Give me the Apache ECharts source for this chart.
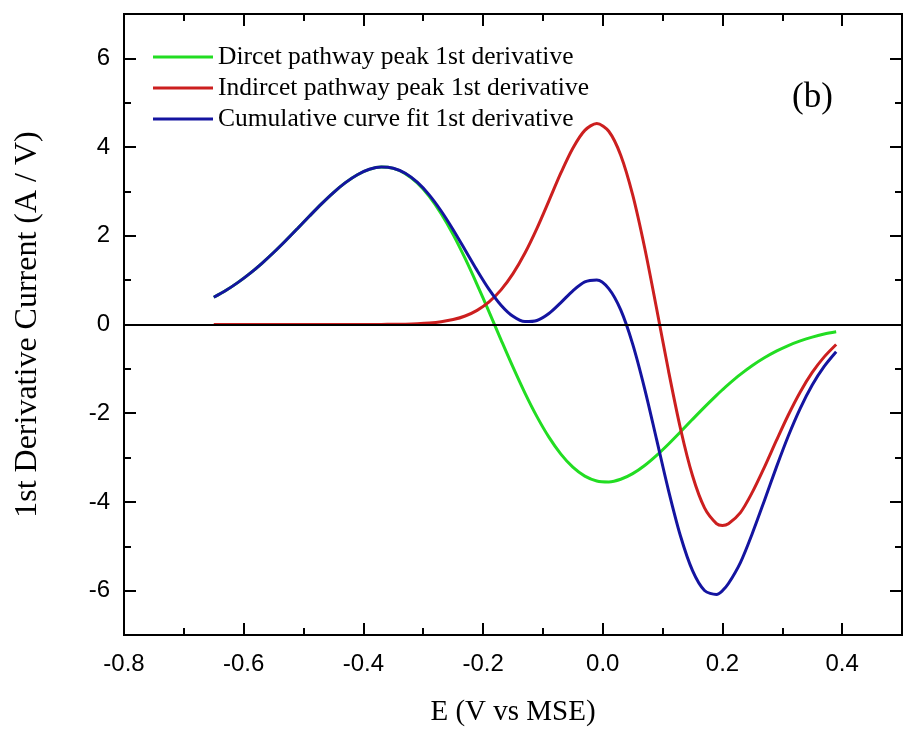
<!DOCTYPE html>
<html>
<head>
<meta charset="utf-8">
<title>1st derivative</title>
<script src="https://cdn.jsdelivr.net/npm/echarts@6/dist/echarts.min.js"></script>
<style>
  html, body { margin: 0; padding: 0; background: #fff; }
  #chart { width: 904px; height: 732px; }
</style>
</head>
<body>
<div id="chart"></div>
<script>
// E (V vs MSE), mostly step 0.02
const xValues = [-0.65, -0.63, -0.61, -0.59, -0.57, -0.55, -0.53, -0.51, -0.49, -0.47,
  -0.45, -0.43, -0.41, -0.39, -0.37, -0.35, -0.33, -0.31, -0.29, -0.27,
  -0.25, -0.23, -0.21, -0.19, -0.17, -0.15, -0.13, -0.11, -0.09, -0.07,
  -0.05, -0.03, -0.01, 0.01, 0.03, 0.05, 0.07, 0.09, 0.11, 0.13,
  0.15, 0.17, 0.19, 0.20, 0.21, 0.23, 0.25, 0.27, 0.29, 0.31, 0.33,
  0.35, 0.37, 0.39];

const directDeriv = [0.614, 0.766, 0.944, 1.147, 1.374, 1.623, 1.889, 2.166, 2.446, 2.720,
  2.975, 3.198, 3.377, 3.498, 3.549, 3.519, 3.402, 3.191, 2.889, 2.497,
  2.027, 1.489, 0.901, 0.283, -0.345, -0.962, -1.546, -2.077, -2.540, -2.923,
  -3.217, -3.418, -3.527, -3.548, -3.489, -3.362, -3.178, -2.950, -2.693, -2.419,
  -2.138, -1.862, -1.597, -1.471, -1.350, -1.126, -0.925, -0.751, -0.601, -0.474, -0.370,
  -0.284, -0.216, -0.165];

const indirectDeriv = [0, 0, 0, 0, 0, 0, 0, 0, 0, 0,
  0, 0, 0, 0.001, 0.002, 0.004, 0.008, 0.017, 0.033, 0.062,
  0.111, 0.192, 0.319, 0.509, 0.780, 1.146, 1.611, 2.168, 2.788, 3.417,
  3.975, 4.377, 4.530, 4.357, 3.817, 2.920, 1.729, 0.355, -1.056, -2.355,
  -3.411, -4.134, -4.488, -4.530, -4.490, -4.240, -3.780, -3.220, -2.620, -2.040, -1.520,
  -1.080, -0.730, -0.450];

const cumulativeDeriv = [0.614, 0.766, 0.944, 1.147, 1.374, 1.623, 1.889, 2.166, 2.446, 2.720,
  2.975, 3.198, 3.377, 3.499, 3.551, 3.523, 3.410, 3.208, 2.922, 2.559,
  2.138, 1.681, 1.220, 0.792, 0.435, 0.184, 0.065, 0.091, 0.248, 0.494,
  0.758, 0.959, 1.003, 0.809, 0.328, -0.442, -1.449, -2.595, -3.749, -4.774,
  -5.549, -5.996, -6.085, -6.001, -5.840, -5.366, -4.705, -3.971, -3.221, -2.514, -1.890,
  -1.364, -0.946, -0.615];

const seriesNames = ['Dircet pathway peak 1st derivative', 'Indircet pathway peak 1st derivative', 'Cumulative curve fit 1st derivative'];
const seriesColors = ['#22dd22', '#cc1f1f', '#1414a0'];

// tick positions
const xMajorTicks = [-0.8, -0.6, -0.4, -0.2, 0, 0.2, 0.4];
const xMinorTicks = [-0.7, -0.5, -0.3, -0.1, 0.1, 0.3];
const yMajorTicks = [-6, -4, -2, 0, 2, 4, 6];
const yMinorTicks = [-5, -3, -1, 1, 3, 5];

const pairs = (ys) => xValues.map((x, i) => [x, ys[i]]);

const myChart = echarts.init(document.getElementById('chart'));

const serif = '"Liberation Serif", "Times New Roman", serif';
const sans = '"Liberation Sans", Arial, sans-serif';

// one axis config for each side and tick kind
const makeX = (position, ticks, len, labels) => ({
  type: 'value', position, min: -0.8, max: 0.5,
  axisLine: { show: true, onZero: false, lineStyle: { color: '#000', width: 2 } },
  axisTick: { show: true, inside: true, length: len, customValues: ticks, lineStyle: { color: '#000', width: 2 } },
  axisLabel: labels ? {
    show: true, customValues: ticks, margin: 17,
    fontFamily: sans, fontSize: 24, color: '#000',
    formatter: (v) => v.toFixed(1)
  } : { show: false },
  splitLine: { show: false }
});
const makeY = (position, ticks, len, labels) => ({
  type: 'value', position, min: -7, max: 7,
  axisLine: { show: true, onZero: false, lineStyle: { color: '#000', width: 2 } },
  axisTick: { show: true, inside: true, length: len, customValues: ticks, lineStyle: { color: '#000', width: 2 } },
  axisLabel: labels ? {
    show: true, customValues: ticks, margin: 14,
    fontFamily: sans, fontSize: 24, color: '#000',
    formatter: (v) => String(v)
  } : { show: false },
  splitLine: { show: false }
});

const xMain = makeX('bottom', xMajorTicks, 12, true);
xMain.name = 'E (V vs MSE)';
xMain.nameLocation = 'middle';
xMain.nameGap = 63;
xMain.nameTextStyle = { fontFamily: serif, fontSize: 29, color: '#000' };

const yMain = makeY('left', yMajorTicks, 12, true);
yMain.name = '1st Derivative Current (A / V)';
yMain.nameLocation = 'middle';
yMain.nameGap = 80;
yMain.nameTextStyle = { fontFamily: serif, fontSize: 32, color: '#000' };

const lineSeries = [directDeriv, indirectDeriv, cumulativeDeriv].map((ys, i) => ({
  name: seriesNames[i],
  type: 'line',
  data: pairs(ys),
  smooth: 0.3,
  showSymbol: false,
  z: 3,
  lineStyle: { color: seriesColors[i], width: 3 },
  itemStyle: { color: seriesColors[i] }
}));

const option = {
  animation: false,
  backgroundColor: '#fff',
  grid: { left: 124, right: 2, top: 14, bottom: 91 },
  title: {
    text: '(b)', left: 792, top: 80, padding: 0,
    textStyle: { fontFamily: serif, fontSize: 35, fontWeight: 'normal', color: '#000' }
  },
  legend: {
    data: seriesNames,
    orient: 'vertical',
    left: 153, top: 43, padding: 0,
    icon: 'rect', itemWidth: 60, itemHeight: 3, itemGap: 3,
    textStyle: { fontFamily: serif, fontSize: 25.5, lineHeight: 28, color: '#000' }
  },
  xAxis: [
    xMain,
    makeX('top', xMajorTicks, 12, false),
    makeX('bottom', xMinorTicks, 7, false),
    makeX('top', xMinorTicks, 7, false)
  ],
  yAxis: [
    yMain,
    makeY('right', yMajorTicks, 12, false),
    makeY('left', yMinorTicks, 7, false),
    makeY('right', yMinorTicks, 7, false)
  ],
  series: [
    {
      name: 'zero', type: 'line', data: [], z: 1,
      markLine: {
        silent: true, symbol: 'none', label: { show: false },
        lineStyle: { color: '#000', width: 2, type: 'solid' },
        data: [{ yAxis: 0 }]
      }
    },
    ...lineSeries
  ]
};

myChart.setOption(option);
</script>
</body>
</html>
